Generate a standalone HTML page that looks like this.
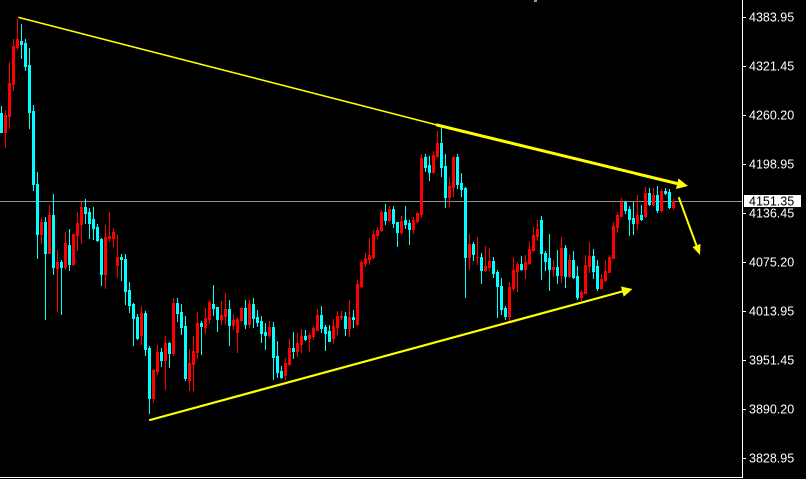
<!DOCTYPE html>
<html><head><meta charset="utf-8"><style>
html,body{margin:0;padding:0;background:#000;}
svg{display:block;}
text{font-family:"Liberation Sans",sans-serif;font-size:12.5px;fill:#fff;}
</style></head><body>
<svg width="806" height="479" viewBox="0 0 806 479" xmlns="http://www.w3.org/2000/svg">
<rect x="0" y="0" width="806" height="479" fill="#000"/>
<rect x="534" y="0" width="3" height="2" fill="#8899bb"/>
<!-- current price line -->
<rect x="0" y="201" width="742" height="1" fill="#8c9096"/>
<!-- cyan candles -->
<path fill="#00ffff" d="M0 113h3V133h-3z M1 106h1V133h-1z M20 41h3V45h-3z M21 24h1V59h-1z M24 43h3V67h-3z M25 39h1V71h-1z M28 65h3V113h-3z M29 48h1V129h-1z M32 111h3V185h-3z M33 105h1V191h-1z M36 184h3V235h-3z M37 172h1V259h-1z M44 222h3V254h-3z M45 217h1V320h-1z M52 215h3V268h-3z M53 194h1V275h-1z M60 262h3V268h-3z M61 260h1V315h-1z M68 245h3V265h-3z M69 229h1V271h-1z M84 207h3V214h-3z M85 199h1V224h-1z M88 212h3V224h-3z M89 208h1V239h-1z M92 219h3V229h-3z M93 207h1V240h-1z M96 227h3V241h-3z M97 224h1V242h-1z M100 239h3V275h-3z M101 238h1V286h-1z M120 257h3V260h-3z M121 254h1V281h-1z M124 259h3V292h-3z M125 254h1V305h-1z M128 290h3V306h-3z M129 282h1V313h-1z M132 304h3V319h-3z M133 303h1V346h-1z M136 317h3V339h-3z M137 314h1V340h-1z M144 313h3V350h-3z M145 311h1V356h-1z M148 348h3V399h-3z M149 346h1V414h-1z M160 352h3V361h-3z M161 348h1V367h-1z M168 343h3V354h-3z M169 342h1V368h-1z M176 303h3V314h-3z M177 298h1V322h-1z M180 312h3V328h-3z M181 304h1V335h-1z M184 326h3V379h-3z M185 316h1V381h-1z M200 323h3V327h-3z M201 321h1V355h-1z M212 304h3V309h-3z M213 285h1V316h-1z M216 307h3V320h-3z M217 307h1V332h-1z M228 309h3V326h-3z M229 300h1V346h-1z M244 308h3V325h-3z M245 300h1V329h-1z M252 304h3V319h-3z M253 298h1V328h-1z M256 317h3V323h-3z M257 310h1V327h-1z M260 321h3V334h-3z M261 316h1V343h-1z M264 332h3V336h-3z M265 323h1V350h-1z M272 327h3V358h-3z M273 322h1V380h-1z M276 356h3V373h-3z M277 341h1V378h-1z M280 371h3V378h-3z M281 366h1V379h-1z M292 348h3V352h-3z M293 332h1V359h-1z M304 336h3V340h-3z M305 330h1V341h-1z M320 315h3V329h-3z M321 306h1V333h-1z M324 327h3V334h-3z M325 325h1V351h-1z M328 331h3V342h-3z M329 325h1V342h-1z M344 316h3V329h-3z M345 312h1V336h-1z M352 317h3V320h-3z M353 310h1V328h-1z M384 212h3V221h-3z M385 204h1V225h-1z M392 209h3V224h-3z M393 206h1V228h-1z M396 222h3V233h-3z M397 222h1V247h-1z M404 220h3V225h-3z M405 206h1V229h-1z M408 223h3V230h-3z M409 220h1V245h-1z M424 157h3V168h-3z M425 154h1V172h-1z M428 165h3V173h-3z M429 156h1V181h-1z M440 143h3V168h-3z M441 127h1V177h-1z M444 166h3V198h-3z M445 154h1V208h-1z M456 157h3V185h-3z M457 154h1V189h-1z M460 183h3V190h-3z M461 173h1V197h-1z M464 188h3V258h-3z M465 187h1V298h-1z M472 244h3V255h-3z M473 242h1V261h-1z M480 257h3V271h-3z M481 253h1V284h-1z M492 261h3V274h-3z M493 257h1V278h-1z M496 272h3V287h-3z M497 270h1V318h-1z M500 286h3V310h-3z M501 278h1V315h-1z M504 308h3V317h-3z M505 306h1V320h-1z M520 264h3V270h-3z M521 256h1V271h-1z M540 220h3V254h-3z M541 216h1V280h-1z M544 253h3V262h-3z M545 251h1V271h-1z M548 258h3V270h-3z M549 234h1V291h-1z M556 267h3V276h-3z M557 250h1V284h-1z M564 248h3V277h-3z M565 245h1V288h-1z M572 260h3V278h-3z M573 251h1V279h-1z M576 276h3V298h-3z M577 266h1V300h-1z M592 256h3V272h-3z M593 249h1V279h-1z M596 266h3V289h-3z M597 260h1V291h-1z M624 202h3V211h-3z M625 201h1V214h-1z M628 209h3V220h-3z M629 206h1V236h-1z M632 218h3V224h-3z M633 202h1V235h-1z M640 215h3V220h-3z M641 205h1V221h-1z M648 193h3V205h-3z M649 188h1V206h-1z M656 195h3V211h-3z M657 186h1V213h-1z M664 191h3V194h-3z M665 188h1V195h-1z M668 192h3V208h-3z M669 189h1V209h-1z"/>
<!-- red candles -->
<path fill="#ff0000" d="M4 115h3V133h-3z M5 110h1V148h-1z M8 83h3V117h-3z M9 62h1V129h-1z M12 46h3V85h-3z M13 39h1V91h-1z M16 39h3V48h-3z M17 19h1V50h-1z M40 222h3V235h-3z M41 218h1V244h-1z M48 215h3V254h-3z M49 205h1V254h-1z M56 262h3V269h-3z M57 250h1V312h-1z M64 243h3V268h-3z M65 232h1V270h-1z M72 234h3V265h-3z M73 234h1V266h-1z M76 223h3V236h-3z M77 212h1V251h-1z M80 207h3V225h-3z M81 202h1V244h-1z M104 237h3V275h-3z M105 225h1V289h-1z M108 236h3V239h-3z M109 212h1V242h-1z M112 232h3V239h-3z M113 228h1V247h-1z M116 257h3V266h-3z M117 235h1V278h-1z M140 313h3V336h-3z M141 306h1V345h-1z M152 370h3V399h-3z M153 369h1V403h-1z M156 352h3V372h-3z M157 345h1V375h-1z M164 343h3V361h-3z M165 336h1V390h-1z M172 303h3V354h-3z M173 298h1V356h-1z M188 363h3V381h-3z M189 349h1V391h-1z M192 351h3V365h-3z M193 336h1V391h-1z M196 323h3V353h-3z M197 312h1V359h-1z M204 318h3V328h-3z M205 308h1V334h-1z M208 302h3V320h-3z M209 300h1V324h-1z M220 315h3V320h-3z M221 301h1V325h-1z M224 309h3V317h-3z M225 293h1V325h-1z M232 320h3V326h-3z M233 314h1V330h-1z M236 319h3V333h-3z M237 317h1V353h-1z M240 308h3V321h-3z M241 307h1V322h-1z M248 304h3V325h-3z M249 300h1V328h-1z M268 327h3V336h-3z M269 321h1V338h-1z M284 363h3V376h-3z M285 358h1V380h-1z M288 348h3V365h-3z M289 339h1V366h-1z M296 343h3V352h-3z M297 333h1V357h-1z M300 336h3V345h-3z M301 329h1V353h-1z M308 335h3V339h-3z M309 333h1V352h-1z M312 328h3V337h-3z M313 326h1V340h-1z M316 315h3V331h-3z M317 309h1V331h-1z M332 326h3V339h-3z M333 319h1V344h-1z M336 316h3V328h-3z M337 311h1V335h-1z M340 316h3V318h-3z M341 311h1V320h-1z M348 317h3V329h-3z M349 300h1V337h-1z M356 284h3V325h-3z M357 280h1V326h-1z M360 262h3V287h-3z M361 260h1V288h-1z M364 258h3V264h-3z M365 253h1V267h-1z M368 255h3V260h-3z M369 238h1V265h-1z M372 234h3V258h-3z M373 230h1V259h-1z M376 230h3V236h-3z M377 227h1V239h-1z M380 212h3V231h-3z M381 210h1V232h-1z M388 209h3V221h-3z M389 206h1V222h-1z M400 221h3V233h-3z M401 216h1V235h-1z M412 220h3V230h-3z M413 217h1V234h-1z M416 213h3V222h-3z M417 212h1V223h-1z M420 158h3V215h-3z M421 154h1V217h-1z M432 155h3V173h-3z M433 151h1V174h-1z M436 143h3V157h-3z M437 131h1V158h-1z M448 186h3V198h-3z M449 178h1V207h-1z M452 157h3V188h-3z M453 156h1V197h-1z M468 244h3V258h-3z M469 234h1V270h-1z M476 257h3V258h-3z M477 237h1V265h-1z M484 266h3V271h-3z M485 246h1V272h-1z M488 261h3V268h-3z M489 248h1V271h-1z M508 287h3V317h-3z M509 282h1V321h-1z M512 270h3V289h-3z M513 257h1V291h-1z M516 264h3V272h-3z M517 262h1V292h-1z M524 262h3V270h-3z M525 255h1V279h-1z M528 249h3V264h-3z M529 242h1V265h-1z M532 235h3V251h-3z M533 227h1V252h-1z M536 229h3V237h-3z M537 220h1V241h-1z M552 267h3V270h-3z M553 260h1V277h-1z M560 248h3V276h-3z M561 237h1V283h-1z M568 260h3V277h-3z M569 255h1V278h-1z M580 292h3V298h-3z M581 290h1V301h-1z M584 265h3V294h-3z M585 255h1V294h-1z M588 256h3V267h-3z M589 242h1V273h-1z M600 279h3V289h-3z M601 274h1V290h-1z M604 271h3V281h-3z M605 260h1V282h-1z M608 257h3V273h-3z M609 255h1V273h-1z M612 226h3V259h-3z M613 222h1V259h-1z M616 215h3V228h-3z M617 212h1V233h-1z M620 202h3V217h-3z M621 198h1V217h-1z M636 215h3V224h-3z M637 195h1V230h-1z M644 193h3V217h-3z M645 187h1V218h-1z M652 195h3V205h-3z M653 188h1V206h-1z M660 191h3V211h-3z M661 189h1V212h-1z M672 201h3V208h-3z M673 199h1V210h-1z"/>
<!-- trend lines -->
<g stroke="#ffff00" fill="none" stroke-linecap="round">
<line x1="19" y1="17.5" x2="437" y2="125" stroke-width="1.6"/>
<line x1="437" y1="125" x2="679" y2="184" stroke-width="3"/>
<line x1="150" y1="420" x2="624" y2="291" stroke-width="2.2"/>
<line x1="679" y1="198" x2="697" y2="247" stroke-width="2"/>
</g>
<g fill="#ffff00">
<polygon points="688,186 678.5,178.5 676,189"/>
<polygon points="632.5,289 621,286.5 623.7,296.8"/>
<polygon points="700,255 692.5,247 700.5,244"/>
</g>
<!-- axes -->
<rect x="742" y="0" width="1" height="478" fill="#fff"/>
<rect x="0" y="477" width="743" height="1" fill="#fff"/>
<g fill="#fff">
<rect x="743" y="17" width="3" height="1"/>
<rect x="743" y="66" width="3" height="1"/>
<rect x="743" y="115" width="3" height="1"/>
<rect x="743" y="164" width="3" height="1"/>
<rect x="743" y="213" width="3" height="1"/>
<rect x="743" y="262" width="3" height="1"/>
<rect x="743" y="311" width="3" height="1"/>
<rect x="743" y="360" width="3" height="1"/>
<rect x="743" y="409" width="3" height="1"/>
<rect x="743" y="458" width="3" height="1"/>
</g>
<text x="749" y="21.5">4383.95</text>
<text x="749" y="70.5">4321.45</text>
<text x="749" y="119.5">4260.20</text>
<text x="749" y="168.5">4198.95</text>
<text x="749" y="217.5">4136.45</text>
<text x="749" y="266.5">4075.20</text>
<text x="749" y="315.5">4013.95</text>
<text x="749" y="364.5">3951.45</text>
<text x="749" y="413.5">3890.20</text>
<text x="749" y="462.5">3828.95</text>
<rect x="744" y="195" width="57" height="12" fill="#fff"/>
<text x="749" y="205.5" style="fill:#000">4151.35</text>
</svg>
</body></html>
